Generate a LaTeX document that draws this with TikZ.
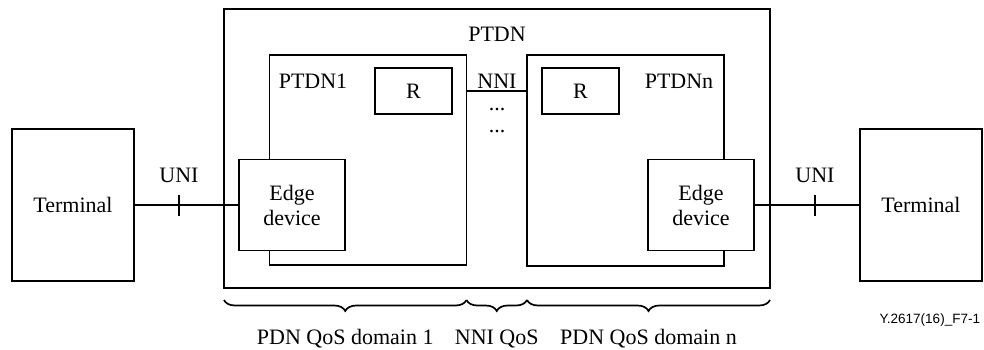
\documentclass[tikz,border=0pt]{standalone}
\usepackage{fontspec}
\setmainfont{Liberation Serif}
\newfontfamily\figfont{Liberation Sans}
\usetikzlibrary{decorations.pathreplacing}
\begin{document}
\begin{tikzpicture}[x=1pt,y=-1pt,line width=1.2pt]
\tikzstyle{every node}+=[inner sep=0pt, outer sep=0pt, font=\fontsize{22}{25}\selectfont]
\tikzstyle{box}=[draw, rectangle]
\tikzstyle{edgebox}=[draw, rectangle, fill=white, align=center, minimum width=106pt, minimum height=91pt]
\tikzstyle{termbox}=[draw, rectangle, minimum width=122pt, minimum height=152pt]
\tikzstyle{qosbrace}=[decorate, line width=1.7pt, decoration={brace, mirror, amplitude=11pt}]
\useasboundingbox (0,0) rectangle (984,349);

% networks
\node [box, minimum width=546pt, minimum height=279pt] (ptdn) at (497,148.5) {};
\node [box, minimum width=197pt, minimum height=210pt] (ptdnA) at (368,160) {};
\node [box, minimum width=197pt, minimum height=211pt] (ptdnB) at (625.5,160.5) {};
\node [anchor=base] (ptdnlabel) at (497,41) {PTDN};
\node [anchor=base] (ptdnAlabel) at (313,88) {PTDN1};
\node [anchor=base] (ptdnBlabel) at (679,88) {PTDNn};

\node [box, minimum width=77pt, minimum height=46pt] (rA) at (413.5,91) {R};
\node [box, minimum width=77pt, minimum height=46pt] (rB) at (580.5,91) {R};

% NNI between the two domains
\draw (ptdnA.east |- rA.center) -- (ptdnB.west |- rA.center);
\node [anchor=base] (nnilabel) at (497,88) {NNI};
\node (dotsA) at (497,110) {...};
\node (dotsB) at (497,132) {...};

% edge devices and terminals
\node [edgebox] (edgeA) at (292,205) {Edge\\device};
\node [edgebox] (edgeB) at (701,205) {Edge\\device};
\node [termbox] (termA) at (73,205) {Terminal};
\node [termbox] (termB) at (921,205) {Terminal};

\draw (termA.east) -- (edgeA.west);
\draw (edgeB.east) -- (termB.west);
\coordinate (uniA) at (179,205);
\coordinate (uniB) at (815,205);
\draw (uniA) +(0,-10.5) -- +(0,10.5);
\draw (uniB) +(0,-10.5) -- +(0,10.5);
\node [anchor=base] (uniAlabel) at ([yshift=23pt]uniA) {UNI};
\node [anchor=base] (uniBlabel) at ([yshift=23pt]uniB) {UNI};

% QoS domains
\coordinate (bl) at ([yshift=-12pt]ptdn.south west);
\coordinate (br) at ([yshift=-12pt]ptdn.south east);
\draw [qosbrace] (bl) -- (bl -| ptdnA.east)
  node [midway, anchor=base, yshift=-44pt] (qosA) {PDN QoS domain 1};
\draw [qosbrace] (bl -| ptdnA.east) -- (bl -| ptdnB.west)
  node [midway, anchor=base, yshift=-44pt] (qosnni) {NNI QoS};
\draw [qosbrace] (bl -| ptdnB.west) -- (br)
  node [midway, anchor=base, yshift=-44pt] (qosB) {PDN QoS domain n};

\node [anchor=base east, font=\figfont\fontsize{13.5}{16}\selectfont] (figid) at (980,323) {Y.2617(16)\_F7-1};
\end{tikzpicture}
\end{document}
